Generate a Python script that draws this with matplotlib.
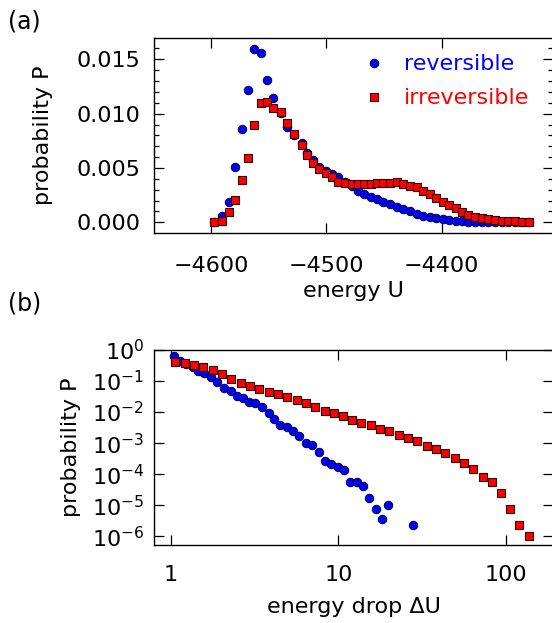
import matplotlib
matplotlib.use('Agg')
import matplotlib.pyplot as plt
from matplotlib.ticker import MultipleLocator, NullLocator, FixedLocator, FixedFormatter

# panel (a): energy distribution, shared bin centres
energy = [-4597.1, -4590.7, -4584.4, -4579.2, -4573.4, -4567.6, -4562.4, -4556.9,
          -4551.2, -4546.0, -4539.5, -4533.8, -4528.0, -4521.3, -4516.5, -4511.3,
          -4506.1, -4500.3, -4494.8, -4489.6, -4483.8, -4478.0, -4472.8, -4467.3,
          -4461.5, -4456.3, -4450.6, -4444.8, -4439.0, -4433.2, -4427.4, -4421.6,
          -4415.9, -4410.1, -4404.9, -4399.0, -4393.6, -4387.8, -4382.0, -4376.8,
          -4371.0, -4365.2, -4359.5, -4353.7, -4347.9, -4342.2, -4336.3, -4330.5,
          -4324.2]
p_rev = [0.00003, 0.00061, 0.0019, 0.00506, 0.00859, 0.0122, 0.01592, 0.01555,
         0.01312, 0.01141, 0.0101, 0.0088, 0.0080, 0.0073, 0.0064, 0.0057,
         0.0051, 0.0047, 0.0044, 0.0042, 0.0037, 0.0033, 0.00291, 0.0026,
         0.00236, 0.00212, 0.0019, 0.00168, 0.00144, 0.00122, 0.00102, 0.00078,
         0.00061, 0.00046, 0.00037, 0.00028, 0.00021, 0.00015, 0.00012, 0.00006,
         0.00003, 0.00002, 0.00002, 0.00001, 0.00001, 0.00001, 0.0, 0.0, 0.0]
p_irr = [0.00006, 0.00015, 0.00092, 0.00205, 0.00392, 0.00595, 0.00893, 0.01095,
         0.0111, 0.01055, 0.01018, 0.00917, 0.0081, 0.00711, 0.00619, 0.00548,
         0.00488, 0.00456, 0.0042, 0.00374, 0.00362, 0.0035, 0.00355, 0.00352,
         0.00355, 0.00359, 0.00364, 0.00364, 0.00368, 0.00355, 0.00334, 0.00328,
         0.00291, 0.0026, 0.00221, 0.0019, 0.00159, 0.00129, 0.00098, 0.00067,
         0.00052, 0.00037, 0.00028, 0.00021, 0.00015, 0.0001, 0.00008, 0.00006,
         0.00005]

# panel (b): energy drop distribution
drop_rev = [1.042, 1.132, 1.229, 1.347, 1.455, 1.581, 1.734, 1.892, 2.075, 2.275,
            2.472, 2.704, 2.938, 3.192, 3.499, 3.837, 4.130, 4.487, 4.920, 5.383,
            5.848, 6.412, 6.966, 7.638, 8.299, 9.078, 9.954, 10.81, 11.75, 12.88,
            14.00, 15.24, 16.75, 18.16, 19.91, 28.05]
pd_rev = [0.640, 0.442, 0.345, 0.276, 0.215, 0.177, 0.138, 0.0906, 0.0610, 0.0475,
          0.0328, 0.0276, 0.0215, 0.0200, 0.0149, 0.00906, 0.00610, 0.00381, 0.00320,
          0.00250, 0.00168, 0.00103, 0.000861, 0.000525, 0.000262, 0.000215,
          0.000173, 0.000135, 5.52e-5, 5.52e-5, 4.21e-5, 1.73e-5, 7.80e-6, 3.53e-6,
          1.0e-5, 2.38e-6]
drop_irr = [1.061, 1.207, 1.372, 1.560, 1.774, 2.018, 2.291, 2.612, 2.965, 3.373,
            3.837, 4.365, 4.955, 5.636, 6.412, 7.295, 8.299, 9.419, 10.72, 12.08,
            13.74, 15.63, 17.74, 20.18, 22.96, 26.12, 29.65, 33.73, 38.37, 43.65,
            49.66, 56.36, 64.12, 72.95, 82.99, 93.54, 106.2, 120.8, 137.4]
pd_irr = [0.421, 0.372, 0.328, 0.276, 0.226, 0.164, 0.119, 0.0841, 0.0690, 0.0566,
          0.0442, 0.0372, 0.0297, 0.0238, 0.0191, 0.0149, 0.0110, 0.00929, 0.00724,
          0.00552, 0.00431, 0.00381, 0.00283, 0.00244, 0.00181, 0.00152, 0.00116,
          0.00082, 0.00064, 0.000465, 0.000328, 0.000238, 0.000145, 8.2e-5, 5.52e-5,
          2.44e-5, 7.62e-6, 2.26e-6, 1.0e-6]

series_labels = ['reversible', 'irreversible']
log_ticks = [1, 10, 100]
log_ticklabels = ['1', '10', '100']

plt.rcParams['font.family'] = 'DejaVu Sans'
plt.rcParams['font.size'] = 16
plt.rcParams['axes.linewidth'] = 1.0

fig = plt.figure(figsize=(5.52, 6.23), dpi=100)
W, H = 552.0, 623.0
ax1 = fig.add_axes([154 / W, 1 - 233 / H, 399 / W, (233 - 37.7) / H])
ax2 = fig.add_axes([154 / W, 1 - 545.3 / H, 399 / W, (545.3 - 350) / H])

circ = dict(marker='o', ls='none', ms=6.1, mfc='#0000ff', mec='#000033', mew=0.7)
sq = dict(marker='s', ls='none', ms=6.0, mfc='#ff0000', mec='#330000', mew=0.8)

ax1.plot(energy, p_rev, label=series_labels[0], zorder=3, **circ)
ax1.plot(energy, p_irr, label=series_labels[1], zorder=4, **sq)
ax1.set_xlim(-4649.4, -4303.4)
ax1.set_ylim(-0.000985, 0.01699)
ax1.xaxis.set_major_locator(MultipleLocator(100))
ax1.yaxis.set_major_locator(MultipleLocator(0.005))
ax1.yaxis.set_minor_locator(MultipleLocator(0.001))
ax1.yaxis.set_major_formatter(matplotlib.ticker.FormatStrFormatter('%.3f'))
ax1.set_xlabel('energy U', labelpad=4)
ax1.set_ylabel('probability P', labelpad=17)

leg = ax1.legend(loc='upper left', bbox_to_anchor=(0.50, 0.96), frameon=False,
                 numpoints=1, handlelength=1.0, handletextpad=0.85,
                 labelspacing=0.63, borderaxespad=0.0, labelcolor='markerfacecolor')

ax2.loglog(drop_rev, pd_rev, zorder=3, **circ)
ax2.loglog(drop_irr, pd_irr, zorder=4, **sq)
ax2.set_xlim(0.791, 192)
ax2.set_ylim(10 ** -6.29, 1.0)
ax2.xaxis.set_major_locator(FixedLocator(log_ticks))
ax2.xaxis.set_major_formatter(FixedFormatter(log_ticklabels))
ax2.xaxis.set_minor_locator(NullLocator())
ax2.yaxis.set_major_locator(matplotlib.ticker.LogLocator(base=10, numticks=10))
ax2.yaxis.set_minor_locator(NullLocator())
ax2.set_xlabel('energy drop \u0394U', labelpad=9)
ax2.set_ylabel('probability P', labelpad=8)

for ax in (ax1, ax2):
    ax.tick_params(which='both', direction='in', top=True, right=True, width=0.9)
    ax.tick_params(which='major', length=7)
    ax.tick_params(which='minor', length=3.5)
ax1.tick_params(axis='x', which='major', pad=16.4)
ax1.tick_params(axis='y', which='major', pad=9.5)
ax2.tick_params(axis='x', which='major', pad=14)
ax2.tick_params(axis='y', which='major', pad=7)

fig.text(8 / W, 1 - 21 / H, '(a)', ha='left', va='center', fontsize=17)
fig.text(8 / W, 1 - 303 / H, '(b)', ha='left', va='center', fontsize=17)

fig.savefig('out.png', dpi=100)
